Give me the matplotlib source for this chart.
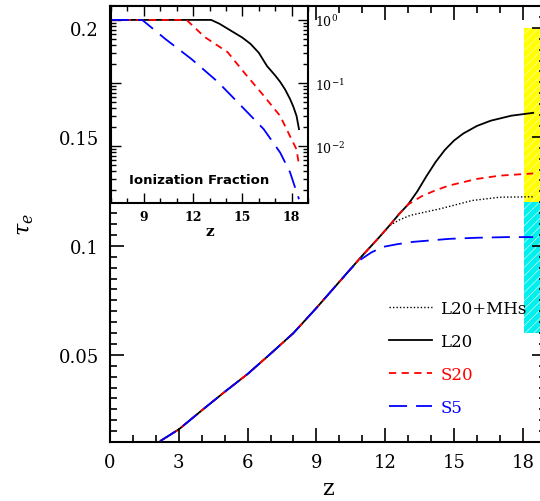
import numpy as np
import matplotlib
matplotlib.use("Agg")
import matplotlib.pyplot as plt
from matplotlib.ticker import MultipleLocator, FuncFormatter, LogLocator, NullFormatter
from matplotlib.lines import Line2D

plt.rcParams['font.family'] = ['DejaVu Serif']
plt.rcParams['mathtext.fontset'] = 'dejavuserif'
plt.rcParams['hatch.linewidth'] = 0.4

# optical depth tau_e vs redshift for each model
z_l20 = [2.2, 3, 4, 5, 6, 7, 8, 9, 10, 11, 11.7, 12.2, 12.6, 13.0, 13.4, 13.8,
         14.2, 14.6, 15.0, 15.4, 16.0, 16.6, 17.5, 18.45]
tau_l20 = [0.0105, 0.0158, 0.0245, 0.033, 0.0412, 0.0505, 0.0600, 0.0715, 0.0835,
           0.0955, 0.1035, 0.1095, 0.1145, 0.119, 0.125, 0.132, 0.1385, 0.1440,
           0.1483, 0.1515, 0.1550, 0.1574, 0.1597, 0.161]

z_mhs = [2.2, 3, 4, 5, 6, 7, 8, 9, 10, 11, 11.7, 12.2, 12.6, 13.1, 14.4, 15.8, 17.0, 18.45]
tau_mhs = [0.0105, 0.0158, 0.0245, 0.033, 0.0412, 0.0505, 0.0600, 0.0715, 0.0835,
           0.0955, 0.1035, 0.1093, 0.1118, 0.114, 0.117, 0.1208, 0.1223, 0.1225]

z_s20 = [2.2, 3, 4, 5, 6, 7, 8, 9, 10, 11, 11.7, 12.2, 12.6, 13.0, 13.6, 14.2,
         14.8, 16.0, 17.0, 18.45]
tau_s20 = [0.0105, 0.0158, 0.0245, 0.033, 0.0412, 0.0505, 0.0600, 0.0715, 0.0835,
           0.0955, 0.1035, 0.1095, 0.1145, 0.119, 0.1228, 0.1255, 0.1277, 0.1307,
           0.1322, 0.1332]

z_s5 = [2.2, 3, 4, 5, 6, 7, 8, 9, 10, 10.5, 10.9, 11.4, 11.9, 12.5, 13.2, 14.8,
        16.0, 17.3, 18.45]
tau_s5 = [0.0105, 0.0158, 0.0245, 0.033, 0.0412, 0.0505, 0.0600, 0.0715, 0.0835,
          0.0895, 0.0935, 0.097, 0.0995, 0.1007, 0.1018, 0.1032, 0.1037, 0.104, 0.104]

# observational tau_e ranges (lower / upper), drawn as bands at the high-z end
band_z = 18.03
band_lo = [0.06, 0.12]
band_hi = [0.12, 0.20]
band_col = ['#00f0f0', '#ffff00']

# ionization fraction (log10) for the inset
zi_l20 = [7, 13.1, 13.6, 14.3, 15.0, 15.5, 16.0, 16.5, 17.0, 17.3, 17.6, 17.9, 18.1, 18.3, 18.45]
lx_l20 = [0, 0, -0.06, -0.17, -0.28, -0.38, -0.52, -0.73, -0.88, -0.98, -1.1, -1.25, -1.37, -1.52, -1.73]
zi_s20 = [7, 11.6, 12.7, 14.1, 15.1, 16.3, 17.3, 17.9, 18.3, 18.45]
lx_s20 = [0, 0, -0.27, -0.51, -0.83, -1.2, -1.52, -1.84, -2.05, -2.3]
zi_s5 = [7, 8.9, 10.3, 11.9, 13.5, 14.7, 16.3, 17.3, 17.9, 18.45]
lx_s5 = [0, 0, -0.3, -0.62, -0.98, -1.3, -1.73, -2.1, -2.41, -2.84]

RED = '#ff0000'
BLUE = '#0000ff'
lw = 1.3

fig = plt.figure(figsize=(5.4, 5.02), dpi=100)
ax = fig.add_axes([0.2037, 0.1175, 0.807, 0.8685])

for lo, hi, c in zip(band_lo, band_hi, band_col):
    ax.bar(band_z, hi - lo, bottom=lo, width=2, align='edge', color=c,
           edgecolor='#fffbe0', hatch='////', linewidth=0, zorder=1)

ax.plot(z_mhs, tau_mhs, color='black', lw=1.0, ls=(0, (1, 1.5)), zorder=3)
ax.plot(z_l20, tau_l20, color='black', lw=lw, zorder=3)
ax.plot(z_s20, tau_s20, color=RED, lw=lw, dashes=(4, 3), zorder=3)
ax.plot(z_s5, tau_s5, color=BLUE, lw=lw, dashes=(10, 5), zorder=3)

ax.set_xlim(0, 19)
ax.set_ylim(0.01, 0.21)
ax.xaxis.set_major_locator(MultipleLocator(3))
ax.xaxis.set_minor_locator(MultipleLocator(1))
ax.yaxis.set_major_locator(MultipleLocator(0.05))
ax.yaxis.set_minor_locator(MultipleLocator(0.005))
ax.yaxis.set_major_formatter(FuncFormatter(lambda v, p: '%g' % v))
ax.tick_params(which='both', direction='in', top=True, right=True, width=1.2)
ax.tick_params(which='major', length=10, labelsize=13, pad=8)
ax.tick_params(which='minor', length=5)
for s in ax.spines.values():
    s.set_linewidth(1.5)
ax.set_xlabel('z', fontsize=16, labelpad=4)
ax.set_ylabel(r'$\tau_e$', fontsize=16, labelpad=16)

handles = [
    Line2D([], [], color='black', lw=1.0, ls=(0, (1, 1.5))),
    Line2D([], [], color='black', lw=lw),
    Line2D([], [], color=RED, lw=lw, dashes=(4, 3)),
    Line2D([], [], color=BLUE, lw=lw, dashes=(10, 5)),
]
leg = ax.legend(handles, ['L20+MHs', 'L20', 'S20', 'S5'], loc='upper left',
                bbox_to_anchor=(0.605, 0.36), frameon=False, fontsize=12,
                handlelength=2.6, handletextpad=0.5, labelspacing=0.95,
                labelcolor=['black', 'black', RED, BLUE])

# inset: ionization fraction
axi = fig.add_axes([0.2056, 0.5936, 0.3648, 0.3924])
axi.plot(zi_l20, 10 ** np.array(lx_l20), color='black', lw=lw)
axi.plot(zi_s20, 10 ** np.array(lx_s20), color=RED, lw=lw, dashes=(4, 3))
axi.plot(zi_s5, 10 ** np.array(lx_s5), color=BLUE, lw=lw, dashes=(10, 5))
axi.set_yscale('log')
axi.set_xlim(7, 19)
axi.set_ylim(10 ** -2.9, 10 ** 0.22)
axi.xaxis.set_major_locator(MultipleLocator(3))
axi.xaxis.set_minor_locator(MultipleLocator(1))
axi.yaxis.set_minor_locator(LogLocator(base=10, subs=np.arange(2, 10)))
axi.yaxis.set_minor_formatter(NullFormatter())
axi.tick_params(which='both', direction='in', top=True, right=True, left=True,
                labelleft=False, labelright=True, width=1.0)
axi.tick_params(which='major', length=7, labelsize=9, pad=5)
axi.tick_params(which='minor', length=3.5)
for lab in axi.get_xticklabels():
    lab.set_fontweight('bold')
for s in axi.spines.values():
    s.set_linewidth(1.5)
axi.set_xlabel('z', fontsize=11, fontweight='bold', labelpad=1)
axi.text(0.09, 0.1, 'Ionization Fraction', transform=axi.transAxes,
         fontsize=9.5, fontweight='bold', family='DejaVu Sans')

fig.savefig('out.png', dpi=100)
